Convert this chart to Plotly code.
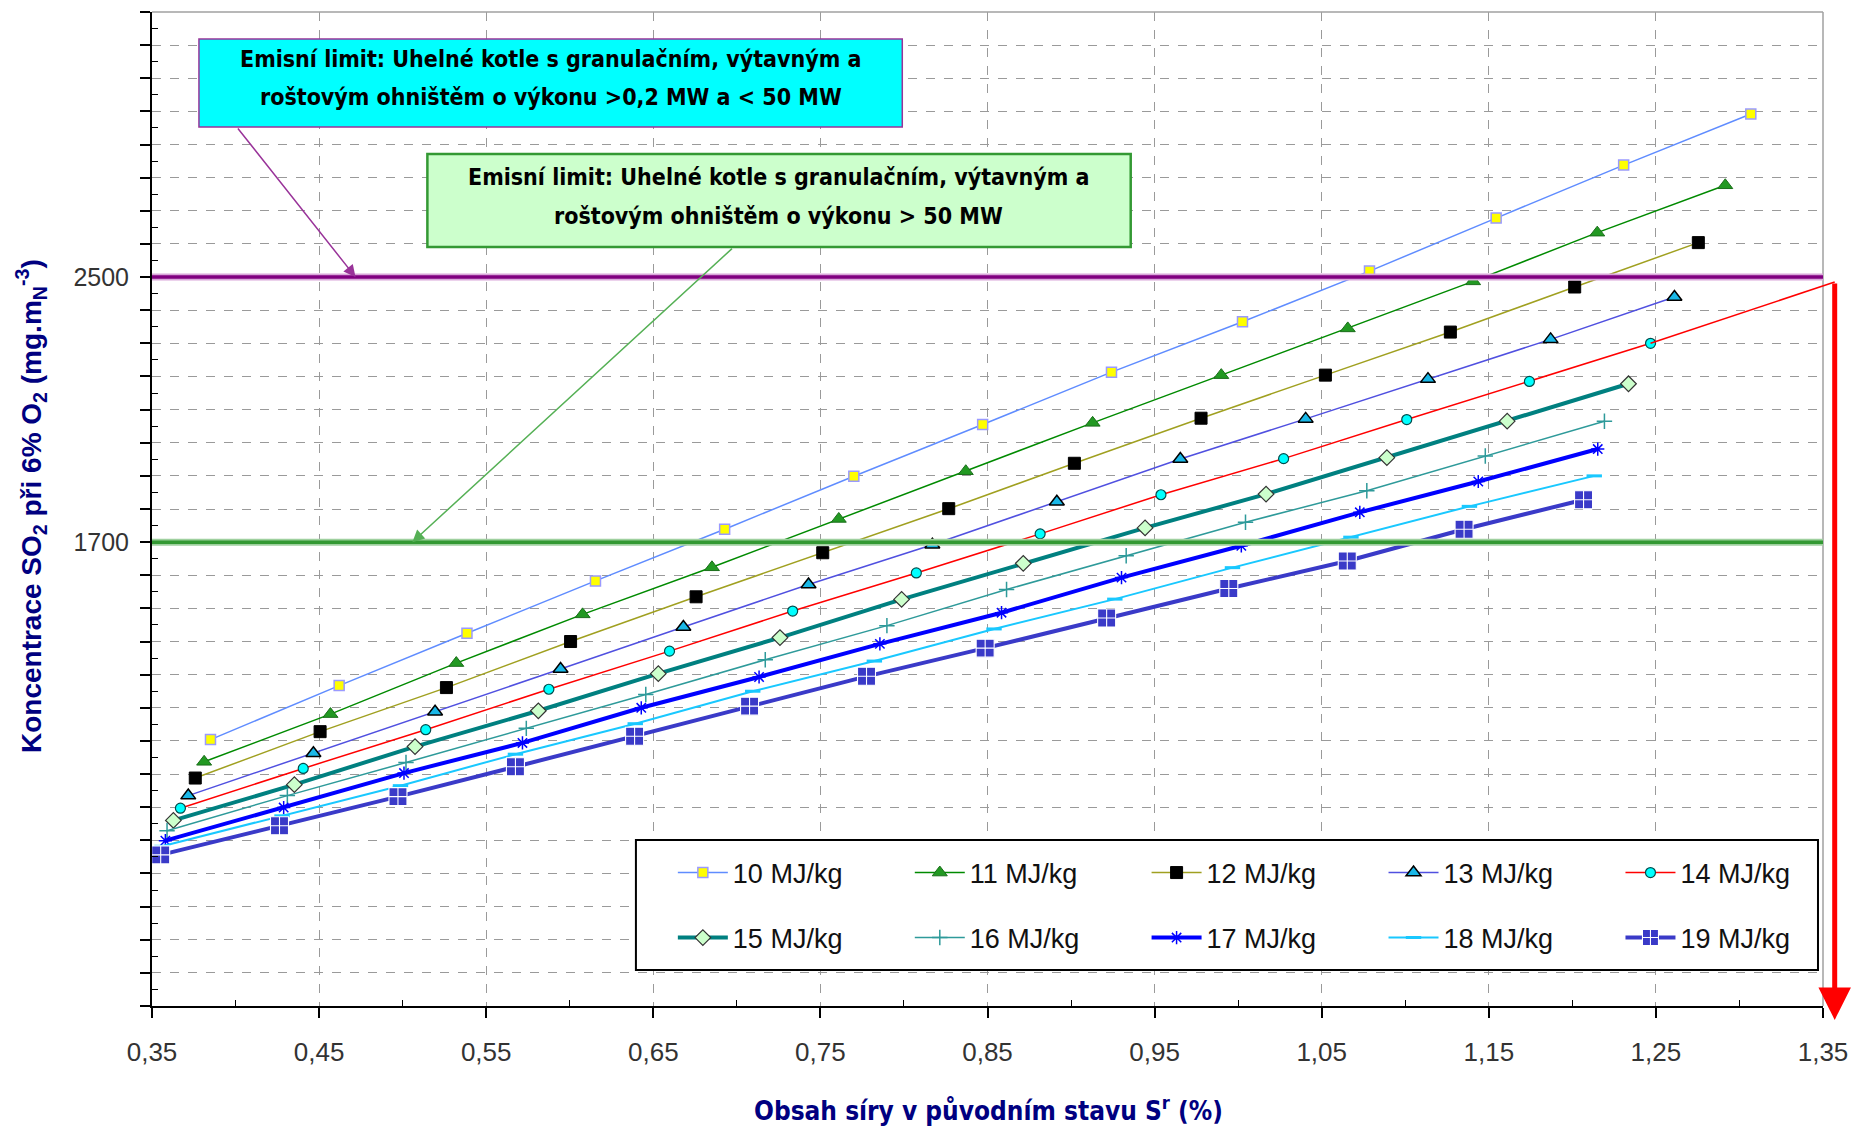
import plotly.graph_objects as go

# ---------------- data ----------------
S_10 = [0.385, 0.462, 0.5385, 0.6154, 0.6927, 0.770, 0.8471, 0.9242, 1.0026, 1.0786, 1.1544, 1.2307, 1.3068]
C_10 = [1104, 1267, 1425, 1583, 1739, 1899, 2055, 2213, 2365, 2518, 2678, 2838, 2992]

S_11 = [0.3812, 0.4568, 0.5321, 0.6077, 0.6851, 0.761, 0.837, 0.9129, 0.9899, 1.0656, 1.1406, 1.2149, 1.2915]
C_11 = [1037, 1181, 1335, 1482, 1624, 1770, 1914, 2060, 2204, 2345, 2487, 2634, 2777]

S_12 = [0.3759, 0.4506, 0.5262, 0.6005, 0.6756, 0.7514, 0.8268, 0.902, 0.9778, 1.0522, 1.127, 1.2014, 1.2754]
C_12 = [988, 1128, 1261, 1400, 1535, 1668, 1801, 1938, 2074, 2204, 2334, 2470, 2604]

S_13 = [0.3717, 0.4466, 0.5194, 0.5945, 0.668, 0.7429, 0.817, 0.8915, 0.9654, 1.0404, 1.1136, 1.187, 1.2611]
C_13 = [935, 1063, 1188, 1317, 1444, 1572, 1692, 1822, 1951, 2072, 2192, 2312, 2440]

S_14 = [0.367, 0.4405, 0.5138, 0.5875, 0.6597, 0.7334, 0.8074, 0.8815, 0.9538, 1.0272, 1.1009, 1.1743, 1.2468]
C_14 = [897, 1017, 1134, 1256, 1371, 1492, 1607, 1725, 1843, 1952, 2070, 2185, 2300]

S_15 = [0.3628, 0.4352, 0.5074, 0.5812, 0.653, 0.7258, 0.7986, 0.8714, 0.9443, 1.0167, 1.089, 1.161, 1.2336]
C_15 = [860, 968, 1083, 1191, 1303, 1412, 1527, 1636, 1743, 1845, 1955, 2065, 2178]

S_16 = [0.359, 0.431, 0.502, 0.574, 0.6455, 0.717, 0.7898, 0.8614, 0.933, 1.0044, 1.077, 1.1479, 1.2192]
C_16 = [829, 935, 1035, 1138, 1240, 1345, 1448, 1557, 1659, 1760, 1855, 1960, 2065]

S_17 = [0.358, 0.4288, 0.5008, 0.5717, 0.6428, 0.7133, 0.7856, 0.8584, 0.9302, 1.0019, 1.0728, 1.1437, 1.2152]
C_17 = [799, 899, 1003, 1094, 1200, 1293, 1393, 1487, 1593, 1689, 1790, 1883, 1981]

S_18 = [0.356, 0.4278, 0.4987, 0.5675, 0.6392, 0.7095, 0.7823, 0.8539, 0.9262, 0.9966, 1.0675, 1.1384, 1.2131]
C_18 = [782, 874, 965, 1060, 1152, 1250, 1341, 1438, 1528, 1623, 1715, 1808, 1900]

S_19 = [0.3552, 0.4263, 0.4972, 0.5675, 0.6388, 0.7076, 0.7776, 0.8486, 0.9213, 0.9944, 1.0653, 1.1352, 1.2067]
C_19 = [756, 844, 932, 1022, 1114, 1205, 1295, 1380, 1471, 1560, 1643, 1739, 1828]

SERIES_NAMES = ["10 MJ/kg", "11 MJ/kg", "12 MJ/kg", "13 MJ/kg", "14 MJ/kg",
                "15 MJ/kg", "16 MJ/kg", "17 MJ/kg", "18 MJ/kg", "19 MJ/kg"]

LIMIT_SMALL = 2500   # >0,2 MW a < 50 MW
LIMIT_LARGE = 1700   # > 50 MW

X_TICK_VALUES = [0.35, 0.45, 0.55, 0.65, 0.75, 0.85, 0.95, 1.05, 1.15, 1.25, 1.35]
X_TICK_LABELS = ["0,35", "0,45", "0,55", "0,65", "0,75", "0,85", "0,95", "1,05", "1,15", "1,25", "1,35"]
Y_TICK_VALUES = list(range(300, 3301, 100))
Y_TICK_LABELS = ["2500" if v == 2500 else ("1700" if v == 1700 else "") for v in Y_TICK_VALUES]

X_RANGE = [0.35, 1.35]
Y_RANGE = [300, 3300]

ARROW_CORNER = (1.357, 2485)   # where the red guide line turns downward

TEXT_BOX_1 = ["Emisní limit: Uhelné kotle s granulačním, výtavným a",
              "roštovým ohništěm o výkonu >0,2 MW a < 50 MW"]
TEXT_BOX_2 = ["Emisní limit: Uhelné kotle s granulačním, výtavným a",
              "roštovým ohništěm o výkonu > 50 MW"]

# ---------------- layout helpers ----------------
NARROW = "DejaVu Sans Condensed, Liberation Sans Narrow, sans-serif"
ARIAL = "Liberation Sans, Arial, sans-serif"

LEGEND_COLUMNS = [0.3117, 0.4535, 0.5952, 0.7370, 0.8788]   # paper x of legend columns
LEGEND_ROWS = [0.1338, 0.0684]                             # paper y of legend rows

styles = [
    dict(line=dict(color="#5f8cff", width=1.5),
         marker=dict(symbol="square", size=10, color="#ffff00", line=dict(color="#9a9aff", width=1.5))),
    dict(line=dict(color="#008a00", width=1.5),
         marker=dict(symbol="triangle-up", size=13, color="#229922", line=dict(color="#1a6e1a", width=1))),
    dict(line=dict(color="#a0a020", width=1.5),
         marker=dict(symbol="square", size=12, color="#000000", line=dict(color="#000000", width=1))),
    dict(line=dict(color="#5050e0", width=1.5),
         marker=dict(symbol="triangle-up", size=13, color="#1ab8e8", line=dict(color="#000000", width=1.5))),
    dict(line=dict(color="#ff0000", width=1.5),
         marker=dict(symbol="circle", size=10, color="#00ffff", line=dict(color="#004c4c", width=1.2))),
    dict(line=dict(color="#008080", width=4),
         marker=dict(symbol="diamond", size=12, color="#ccffcc", line=dict(color="#333333", width=1.2))),
    dict(line=dict(color="#2e9a9a", width=1.5),
         marker=dict(symbol="cross-thin", size=11, color="#2e9a9a", line=dict(color="#2e9a9a", width=1.5))),
    dict(line=dict(color="#0000ff", width=4),
         marker=dict(symbol="asterisk", size=11, color="#0000ff", line=dict(color="#0000ff", width=1.5))),
    dict(line=dict(color="#19c8ff", width=2),
         marker=dict(symbol="line-ew", size=11, color="#19c8ff", line=dict(color="#19c8ff", width=3))),
    dict(line=dict(color="#3a3ac8", width=4),
         marker=dict(symbol="square-cross", size=18, color="#3a3ac8", line=dict(color="#ffffff", width=1.1))),
]

SX = [S_10, S_11, S_12, S_13, S_14, S_15, S_16, S_17, S_18, S_19]
CY = [C_10, C_11, C_12, C_13, C_14, C_15, C_16, C_17, C_18, C_19]

fig = go.Figure()
legend_layouts = {}
for i, (xs, ys, name, st) in enumerate(zip(SX, CY, SERIES_NAMES, styles)):
    lid = "legend" if i == 0 else "legend%d" % (i + 1)
    fig.add_trace(go.Scatter(
        x=xs, y=ys, name=name, mode="lines+markers", showlegend=True,
        line=st["line"], marker=st["marker"], legend=lid,
    ))
    legend_layouts[lid] = dict(
        x=LEGEND_COLUMNS[i % 5], y=LEGEND_ROWS[i // 5], xanchor="left", yanchor="middle",
        bgcolor="rgba(0,0,0,0)", borderwidth=0, itemwidth=50, visible=True,
        font=dict(family=ARIAL, size=27, color="#111111"),
    )


def to_paper_x(v):
    return (v - X_RANGE[0]) / (X_RANGE[1] - X_RANGE[0])


def to_paper_y(v):
    return (v - Y_RANGE[0]) / (Y_RANGE[1] - Y_RANGE[0])


shapes = []
# frame top / right
shapes.append(dict(type="line", xref="paper", yref="paper", x0=0, x1=1, y0=1, y1=1,
                   line=dict(color="#a0a0a0", width=1.5)))
shapes.append(dict(type="line", xref="paper", yref="paper", x0=1, x1=1, y0=0, y1=1,
                   line=dict(color="#a0a0a0", width=1.5)))
# emission limit lines (halo + core)
shapes.append(dict(type="line", xref="paper", yref="y", x0=0, x1=1, y0=LIMIT_SMALL, y1=LIMIT_SMALL,
                   line=dict(color="#d9a6d9", width=7), layer="above"))
shapes.append(dict(type="line", xref="paper", yref="y", x0=0, x1=1, y0=LIMIT_SMALL, y1=LIMIT_SMALL,
                   line=dict(color="#800080", width=3.5), layer="above"))
shapes.append(dict(type="line", xref="paper", yref="y", x0=0, x1=1, y0=LIMIT_LARGE, y1=LIMIT_LARGE,
                   line=dict(color="#9fd09f", width=7), layer="above"))
shapes.append(dict(type="line", xref="paper", yref="y", x0=0, x1=1, y0=LIMIT_LARGE, y1=LIMIT_LARGE,
                   line=dict(color="#339933", width=3.5), layer="above"))
# text boxes
shapes.append(dict(type="rect", xref="paper", yref="paper", x0=0.0281, x1=0.449, y0=0.8843, y1=0.9728,
                   fillcolor="#00ffff", line=dict(color="#993399", width=1.5), layer="above"))
shapes.append(dict(type="rect", xref="paper", yref="paper", x0=0.1648, x1=0.5857, y0=0.7636, y1=0.8571,
                   fillcolor="#ccffcc", line=dict(color="#339933", width=2.5), layer="above"))
# legend box
shapes.append(dict(type="rect", xref="paper", yref="paper", x0=0.2896, x1=0.997, y0=0.0362, y1=0.167,
                   fillcolor="#ffffff", line=dict(color="#000000", width=2), layer="above"))
# red guide line from the end of the 14 MJ/kg curve
shapes.append(dict(type="line", xref="paper", yref="paper",
                   x0=to_paper_x(S_14[-1]), y0=to_paper_y(C_14[-1]),
                   x1=to_paper_x(ARROW_CORNER[0]), y1=to_paper_y(ARROW_CORNER[1]),
                   line=dict(color="#ff0000", width=1.5), layer="above"))

annotations = []
# box texts
for txt, py in zip(TEXT_BOX_1, [0.9527, 0.9145]):
    annotations.append(dict(xref="paper", yref="paper", x=0.2385, y=py, text=txt, showarrow=False,
                            font=dict(family=NARROW, size=23, color="#000000", weight="bold"),
                            xanchor="center", yanchor="middle"))
for txt, py in zip(TEXT_BOX_2, [0.834, 0.7948]):
    annotations.append(dict(xref="paper", yref="paper", x=0.3752, y=py, text=txt, showarrow=False,
                            font=dict(family=NARROW, size=23, color="#000000", weight="bold"),
                            xanchor="center", yanchor="middle"))
# arrows from boxes to limit lines
annotations.append(dict(xref="x", yref="y", axref="x", ayref="y", x=0.4718, y=LIMIT_SMALL,
                        ax=0.4007, ay=2953, text="", showarrow=True, arrowhead=2, arrowsize=1.6,
                        arrowwidth=1.5, arrowcolor="#993399", standoff=0))
annotations.append(dict(xref="x", yref="y", axref="x", ayref="y", x=0.5058, y=LIMIT_LARGE,
                        ax=0.698, ay=2590, text="", showarrow=True, arrowhead=2, arrowsize=1.6,
                        arrowwidth=1.5, arrowcolor="#55b055", standoff=0))
# red vertical arrow
annotations.append(dict(xref="paper", yref="paper", x=to_paper_x(ARROW_CORNER[0]), y=-0.014,
                        ax=0, ay=-738, text="", showarrow=True, arrowhead=2, arrowsize=1.3,
                        arrowwidth=5, arrowcolor="#ff0000", standoff=0))
# axis titles
annotations.append(dict(xref="paper", yref="paper", x=-0.0724, y=0.503, textangle=-90,
                        text="Koncentrace SO<sub>2</sub> při 6% O<sub>2</sub> (mg.m<sub>N</sub><sup>-3</sup>)",
                        showarrow=False, xanchor="center", yanchor="middle",
                        font=dict(family=ARIAL, size=28, color="#000080", weight="bold")))
annotations.append(dict(xref="paper", yref="paper", x=0.5003, y=-0.1036,
                        text="Obsah síry v původním stavu S<sup>r</sup> (%)",
                        showarrow=False, xanchor="center", yanchor="middle",
                        font=dict(family=NARROW, size=26, color="#000080", weight="bold")))

fig.update_layout(
    width=1860, height=1126,
    margin=dict(l=152, r=33, t=12, b=120),
    paper_bgcolor="#ffffff", plot_bgcolor="#ffffff",
    showlegend=True,
    shapes=shapes, annotations=annotations,
    xaxis=dict(range=X_RANGE, tickmode="array", tickvals=X_TICK_VALUES, ticktext=X_TICK_LABELS,
               showgrid=True, gridcolor="#9a9a9a", griddash="dash", gridwidth=1,
               showline=True, linecolor="#000000", linewidth=2,
               ticks="outside", ticklen=10, tickwidth=1.5, tickcolor="#000000",
               ticklabelstandoff=12,
               minor=dict(tickmode="linear", tick0=0.40, dtick=0.1, ticks="inside", ticklen=6,
                          tickcolor="#000000", tickwidth=1.2, showgrid=False),
               tickfont=dict(family=ARIAL, size=26, color="#333333"), zeroline=False),
    yaxis=dict(range=Y_RANGE, tickmode="array", tickvals=Y_TICK_VALUES, ticktext=Y_TICK_LABELS,
               showgrid=True, gridcolor="#9a9a9a", griddash="dash", gridwidth=1,
               showline=True, linecolor="#000000", linewidth=2,
               ticks="outside", ticklen=10, tickwidth=1.5, tickcolor="#000000",
               ticklabelstandoff=6,
               minor=dict(tickmode="linear", tick0=350, dtick=100, ticks="inside", ticklen=6,
                          tickcolor="#000000", tickwidth=1.2, showgrid=False),
               tickfont=dict(family=ARIAL, size=25, color="#333333"), zeroline=False),
    **legend_layouts,
)

fig.write_html("out.html")
